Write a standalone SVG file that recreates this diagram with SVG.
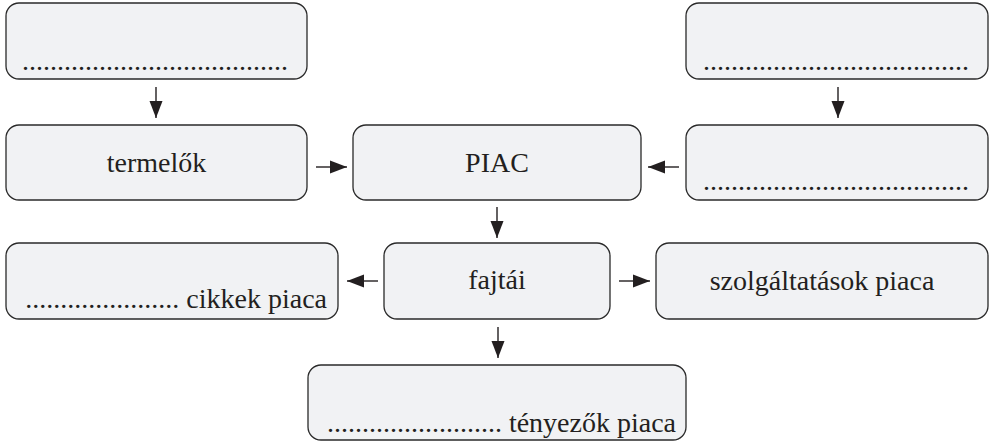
<svg xmlns="http://www.w3.org/2000/svg" width="990" height="442" viewBox="0 0 990 442">
<style>
.box{fill:#f1f2f4;stroke:#2a2a2a;stroke-width:1.3}
.t{font-family:'Liberation Serif','DejaVu Serif',serif;font-size:28px;fill:#231f20}
.c{text-anchor:middle}
.e{text-anchor:end}
.ln{stroke:#231f20;stroke-width:1.4;fill:none;marker-end:url(#ah)}
</style>
<defs>
<marker id="ah" markerUnits="userSpaceOnUse" markerWidth="18" markerHeight="14" refX="17" refY="7" orient="auto">
<path d="M0,0.5 L17,7 L0,13.5 Z" fill="#231f20"/>
</marker>
</defs>
<rect width="990" height="442" fill="#ffffff"/>
<g id="connectors">
<line class="ln" x1="156" y1="87" x2="156" y2="118"/>
<line class="ln" x1="838" y1="87" x2="838" y2="118"/>
<line class="ln" x1="316" y1="167" x2="347" y2="167"/>
<line class="ln" x1="679" y1="167" x2="648" y2="167"/>
<line class="ln" x1="497" y1="207" x2="497" y2="238"/>
<line class="ln" x1="378" y1="281" x2="347" y2="281"/>
<line class="ln" x1="619" y1="281" x2="650" y2="281"/>
<line class="ln" x1="498" y1="327" x2="498" y2="358"/>
</g>
<g id="node-top-left">
<rect class="box" x="6" y="3" width="301" height="76" rx="13"/>
<text class="t" x="22" y="70" font-family="Liberation Serif, DejaVu Serif, serif">......................................</text>
</g>
<g id="node-termelok">
<rect class="box" x="6" y="125" width="301" height="75" rx="13"/>
<text class="t c" x="156.5" y="172" font-family="Liberation Serif, DejaVu Serif, serif">termelők</text>
</g>
<g id="node-piac">
<rect class="box" x="353" y="125" width="288" height="75" rx="13"/>
<text class="t c" x="497" y="172" font-family="Liberation Serif, DejaVu Serif, serif">PIAC</text>
</g>
<g id="node-top-right">
<rect class="box" x="686" y="3" width="302" height="76" rx="13"/>
<text class="t" x="703" y="70" font-family="Liberation Serif, DejaVu Serif, serif">......................................</text>
</g>
<g id="node-mid-right">
<rect class="box" x="686" y="125" width="302" height="75" rx="13"/>
<text class="t" x="703" y="190" font-family="Liberation Serif, DejaVu Serif, serif">......................................</text>
</g>
<g id="node-cikkek">
<rect class="box" x="6" y="243" width="332" height="76" rx="13"/>
<text class="t e" x="327" y="308" font-family="Liberation Serif, DejaVu Serif, serif">...................... cikkek piaca</text>
</g>
<g id="node-fajtai">
<rect class="box" x="384" y="243" width="226" height="76" rx="13"/>
<text class="t c" x="497" y="289" font-family="Liberation Serif, DejaVu Serif, serif">fajtái</text>
</g>
<g id="node-szolgaltatasok">
<rect class="box" x="656" y="243" width="332" height="76" rx="13"/>
<text class="t c" x="822" y="290" font-family="Liberation Serif, DejaVu Serif, serif">szolgáltatások piaca</text>
</g>
<g id="node-tenyezok">
<rect class="box" x="308" y="365" width="378" height="75" rx="13"/>
<text class="t e" x="676" y="432" font-family="Liberation Serif, DejaVu Serif, serif">......................... tényezők piaca</text>
</g>
</svg>
